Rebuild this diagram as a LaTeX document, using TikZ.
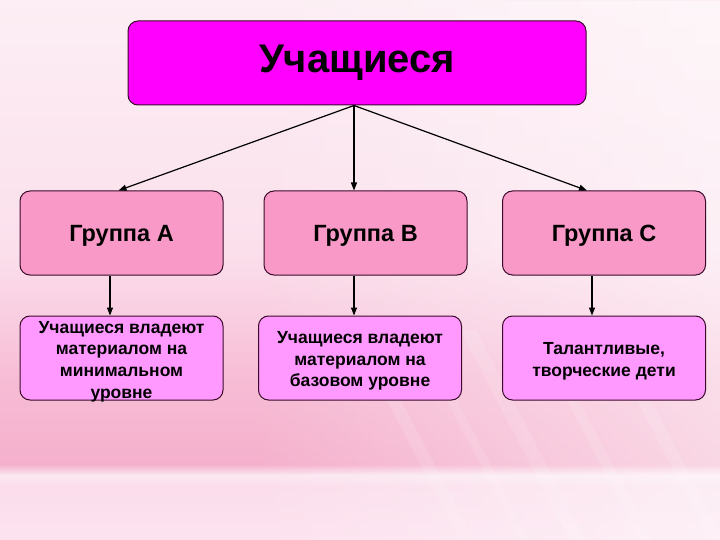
\documentclass[tikz,border=0pt]{standalone}
\usepackage{fontspec}
\setmainfont{Liberation Sans}
\usetikzlibrary{arrows.meta,calc,fadings}
\definecolor{topfill}{HTML}{FF00FF}
\definecolor{grpfill}{HTML}{F999C8}
\definecolor{descfill}{HTML}{FF99FF}
\definecolor{edge}{HTML}{3A0A2A}
\definecolor{bgA}{HTML}{FCE2EF}
\definecolor{bgB}{HTML}{FBDDEB}
\definecolor{bgC}{HTML}{FBE8F1}
\definecolor{bgD}{HTML}{F5B0CC}
\definecolor{bgE}{HTML}{F7BCD5}
\definecolor{bgF}{HTML}{FBE0EC}
\definecolor{bgG}{HTML}{FCEEF4}
\pgfdeclareverticalshading{bgshade}{100bp}{%
  color(0bp)=(bgA);
  color(25bp)=(bgA);
  color(30bp)=(bgB);
  color(31bp)=(bgC);
  color(32bp)=(bgD);
  color(39.8bp)=(bgE);
  color(51.9bp)=(bgF);
  color(75bp)=(bgG);
  color(100bp)=(bgG)}
\tikzset{
  topbox/.style={draw=edge, line width=1pt, fill=topfill, rounded corners=10pt,
    minimum width=458pt, minimum height=84pt, font=\fontsize{40}{46}\selectfont\bfseries},
  grpbox/.style={draw=edge, line width=1pt, fill=grpfill, rounded corners=10pt,
    minimum width=203pt, minimum height=84pt, text depth=0pt,
    font=\fontsize{23.5}{28}\selectfont\bfseries},
  descbox/.style={draw=edge, line width=1pt, fill=descfill, rounded corners=10pt,
    minimum width=203pt, minimum height=84pt, inner sep=0pt},
  desctext/.style={align=center, inner sep=0pt,
    font=\fontsize{17.5}{21.7}\selectfont\bfseries},
  conn/.style={draw=black, line width=1.2pt, -{Triangle[length=8pt,width=6pt]}}
}
\begin{document}
\begin{tikzpicture}[x=1pt,y=-1pt]
\useasboundingbox (0,0) rectangle (720,540);
\shade[shading=bgshade] (0,0) rectangle (720,540);
% lighter toward the right
\fill[white, opacity=0.5, path fading=west] (250,0) rectangle (720,540);
% diagonal light streaks
\foreach \x/\w in {350/14,410/10,460/16,530/12,600/14} {
  \fill[white, opacity=0.12] (\x,330) -- (\x+\w,330) -- (\x+\w+110,540) -- (\x+110,540) -- cycle;
}

\node[topbox] (top) at (357,63) {Учащиеся};
\node[grpbox] (ga) at (121.5,233) {Группа А};
\node[grpbox] (gb) at (365.5,233) {Группа В};
\node[grpbox] (gc) at (604,233) {Группа С};
\node[descbox] (da) at (121.5,358) {};
\node[descbox] (db) at (360,358) {};
\node[descbox] (dc) at (604,358) {};
\node[desctext] (ta) at ([yshift=-3.5pt]da.center) {Учащиеся владеют\\материалом на\\минимальном\\уровне};
\node[desctext] (tb) at ([yshift=-3pt]db.center) {Учащиеся владеют\\материалом на\\базовом уровне};
\node[desctext] (tc) at ([yshift=-3pt]dc.center) {Талантливые,\\творческие дети};

\coordinate (src) at ([xshift=-3pt]top.south);
\draw[conn] (src) -- ([xshift=-3pt]ga.north);
\draw[conn] (src) -- (src |- gb.north);
\draw[conn] (src) -- ([xshift=-17pt]gc.north);
\draw[conn] ([xshift=-11.5pt]ga.south) -- ([xshift=-11.5pt]ga.south |- da.north);
\draw[conn] ([xshift=-11.5pt]gb.south) -- ([xshift=-11.5pt]gb.south |- db.north);
\draw[conn] ([xshift=-12pt]gc.south) -- ([xshift=-12pt]gc.south |- dc.north);
\end{tikzpicture}
\end{document}
